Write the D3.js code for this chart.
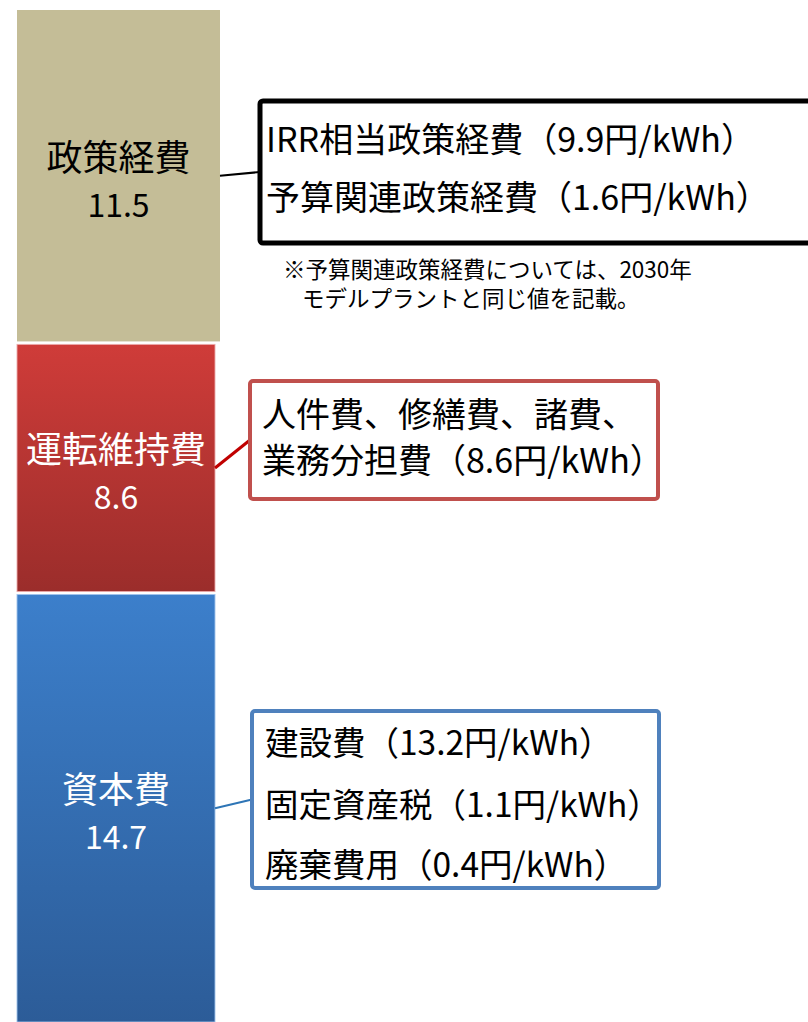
<!DOCTYPE html>
<html>
<head>
<meta charset="utf-8">
<script src="https://cdn.jsdelivr.net/npm/d3@7"></script>
<style>
  html, body { margin: 0; padding: 0; background: #fff; }
  svg { display: block; font-family: "Noto Sans CJK JP", "Noto Sans", sans-serif; }
</style>
</head>
<body>
<svg id="chart" width="808" height="1022"></svg>
<script>
// Cost components (円/kWh), stacked bottom to top
const categories = ["資本費", "運転維持費", "政策経費"];
const values = [14.7, 8.6, 11.5];

// Breakdown of each component
const capitalItems = ["建設費", "固定資産税", "廃棄費用"];
const capitalValues = [13.2, 1.1, 0.4];
const omItems = ["人件費", "修繕費", "諸費", "業務分担費"];
const omValues = [8.6];
const policyItems = ["IRR相当政策経費", "予算関連政策経費"];
const policyValues = [9.9, 1.6];
const noteLines = ["※予算関連政策経費については、2030年", "モデルプラントと同じ値を記載。"];

const W = 808, H = 1022;
const svg = d3.select("#chart");
const fmt = d3.format(".1f");
const unit = v => `（${fmt(v)}円/kWh）`;

// stacked layout
const stackRows = [Object.fromEntries(categories.map((c, i) => [c, values[i]]))];
const series = d3.stack().keys(categories)(stackRows);

const y = d3.scaleLinear().domain([0, d3.sum(values)]).range([H, 10]);
const x = d3.scaleBand().domain(["total"]).range([17, 220]).padding(0);

const defs = svg.append("defs");
function vGrad(id, top, bottom) {
  const g = defs.append("linearGradient").attr("id", id)
    .attr("x1", 0).attr("y1", 0).attr("x2", 0).attr("y2", 1);
  g.append("stop").attr("offset", "0%").attr("stop-color", top);
  g.append("stop").attr("offset", "100%").attr("stop-color", bottom);
}
vGrad("gCapital", "#3C7FCB", "#2C5C98");
vGrad("gOM", "#CF3C39", "#9B2D2B");

const segStyle = {
  "資本費":   { fill: "url(#gCapital)", stroke: "rgba(160,195,235,0.9)", trim: 5, text: "#fff" },
  "運転維持費": { fill: "url(#gOM)", stroke: "rgba(235,170,170,0.9)", trim: 5, text: "#fff" },
  "政策経費":  { fill: "#C4BD97", stroke: "none", trim: 0, text: "#000" }
};
const gap = 3;

const segs = series.map((s, i) => {
  const d = s[0];
  const top = y(d[1]);
  const bottom = y(d[0]) - (i > 0 ? gap : 0);
  return { key: s.key, value: d[1] - d[0], top, bottom, mid: (top + bottom) / 2 };
});

const bars = svg.append("g");
bars.selectAll("rect").data(segs).join("rect")
  .attr("x", x("total"))
  .attr("y", d => d.top)
  .attr("width", d => x.bandwidth() - segStyle[d.key].trim)
  .attr("height", d => d.bottom - d.top)
  .attr("fill", d => segStyle[d.key].fill)
  .attr("stroke", d => segStyle[d.key].stroke)
  .attr("stroke-width", 1);

// in-bar labels
const labels = svg.append("g").attr("text-anchor", "middle");
segs.forEach(d => {
  const cx = x("total") + (x.bandwidth() - segStyle[d.key].trim) / 2;
  labels.append("text")
    .attr("x", cx).attr("y", d.mid - 21)
    .attr("dominant-baseline", "central")
    .attr("font-size", 36)
    .attr("fill", segStyle[d.key].text)
    .text(d.key);
  labels.append("text")
    .attr("x", cx).attr("y", d.mid + 27)
    .attr("dominant-baseline", "central")
    .attr("font-size", 32)
    .attr("fill", segStyle[d.key].text)
    .text(fmt(d.value));
});

// breakdown callouts
const callouts = [
  { key: "政策経費", box: [260, 101, 580, 142], stroke: "#000", sw: 5, line: "#000", lw: 2,
    fs: 34, tx: 266, ty: [137, 195],
    lines: policyItems.map((n, i) => n + unit(policyValues[i])) },
  { key: "運転維持費", box: [250, 381, 408, 118], stroke: "#C0504D", sw: 4, line: "#C00000", lw: 3,
    fs: 34, tx: 262, ty: [412, 458],
    lines: [omItems.slice(0, 3).join("、") + "、", omItems[3] + unit(omValues[0])] },
  { key: "資本費", box: [252, 711, 407, 177], stroke: "#4F81BD", sw: 4, line: "#2E75B6", lw: 2,
    fs: 33.5, tx: 265, ty: [740, 802, 862],
    lines: capitalItems.map((n, i) => n + unit(capitalValues[i])) }
];

const cg = svg.append("g");
callouts.forEach(c => {
  const seg = segs.find(s => s.key === c.key);
  const [bx, by, bw, bh] = c.box;
  const segRight = x("total") + x.bandwidth() - segStyle[c.key].trim;
  cg.append("line")
    .attr("x1", segRight).attr("y1", seg.mid)
    .attr("x2", bx).attr("y2", by + bh / 2)
    .attr("stroke", c.line).attr("stroke-width", c.lw);
  cg.append("rect")
    .attr("x", bx).attr("y", by).attr("width", bw).attr("height", bh)
    .attr("rx", 3).attr("fill", "#fff")
    .attr("stroke", c.stroke).attr("stroke-width", c.sw);
  c.lines.forEach((t, i) => {
    cg.append("text")
      .attr("x", c.tx).attr("y", c.ty[i])
      .attr("dominant-baseline", "central")
      .attr("font-size", c.fs).attr("fill", "#000")
      .text(t);
  });
});

// footnote
const note = svg.append("g").attr("font-size", 22.5).attr("fill", "#000");
note.append("text").attr("x", 283).attr("y", 268).attr("dominant-baseline", "central").text(noteLines[0]);
note.append("text").attr("x", 302).attr("y", 297).attr("dominant-baseline", "central").text(noteLines[1]);
</script>
</body>
</html>
